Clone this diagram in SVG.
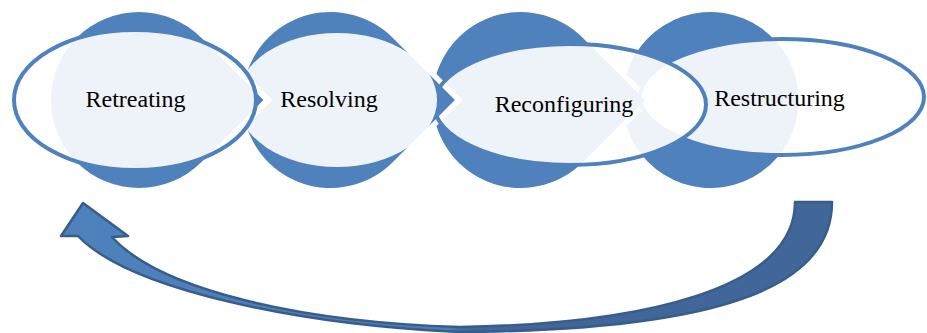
<svg xmlns="http://www.w3.org/2000/svg" width="927" height="333" viewBox="0 0 927 333">
  <defs>
    <style>
      .disc { fill: #4f81bd; }
      .veil { fill: #ffffff; fill-opacity: 0.9; }
      .ring { fill: #ffffff; fill-opacity: 0.9; stroke: #4f81bd; stroke-width: 4; }
      .label { font-family: "Liberation Serif", "Times New Roman", serif; font-size: 24px; fill: #000000; text-anchor: middle; }
    </style>
    <linearGradient id="loopFill" gradientUnits="userSpaceOnUse" x1="60" y1="0" x2="832" y2="0">
      <stop offset="0" stop-color="#4f81bd"/>
      <stop offset="0.5" stop-color="#4c7cb6"/>
      <stop offset="0.53" stop-color="#41679a"/>
      <stop offset="1" stop-color="#41679a"/>
    </linearGradient>
  </defs>

  <rect width="927" height="333" fill="#ffffff"/>

  <!-- stages are painted from last to first so each pointed tip sits above the next stage -->
  <g id="node-restructuring">
    <path class="disc" d="M626.44 73.94 A88 88 0 1 1 626.44 126.06 L652.5 100 Z"/>
    <ellipse class="ring" cx="782" cy="97" rx="142" ry="58"/>
    <text class="label" x="779.5" y="106">Restructuring</text>
  </g>

  <g id="node-reconfiguring">
    <path class="disc" d="M644.95 100 L582.7 37.8 A88 88 0 0 0 436.44 73.94 L462.5 100 L436.44 126.06 A88 88 0 0 0 582.7 162.2 Z"/>
    <ellipse class="ring" cx="570" cy="104.5" rx="136" ry="60.5"/>
    <text class="label" x="564" y="112">Reconfiguring</text>
  </g>

  <g id="node-resolving">
    <path class="disc" d="M454.95 100 L392.7 37.8 A88 88 0 0 0 246.44 73.94 L272.5 100 L246.44 126.06 A88 88 0 0 0 392.7 162.2 Z"/>
    <ellipse class="veil" cx="337" cy="100" rx="100" ry="67"/>
    <text class="label" x="329" y="107">Resolving</text>
  </g>

  <g id="node-retreating">
    <path class="disc" d="M263.45 100 L201.2 37.8 A88 88 0 1 0 201.2 162.2 Z"/>
    <ellipse class="ring" cx="135" cy="100" rx="121" ry="70"/>
    <text class="label" x="135.5" y="107">Retreating</text>
  </g>

  <!-- return loop from the last stage back to the first -->
  <g id="connectors">
    <path d="M795 202 L832 202 C832 280 740 330 460 332 C300 325 130 290 78 236 L61 236 L83 203 L128 236 L112 237 C160 290 300 322 460 327 C640 324 795 290 795 202 Z"
          fill="url(#loopFill)" stroke="#385d8a" stroke-width="2.5" stroke-linejoin="round"/>
  </g>
</svg>
